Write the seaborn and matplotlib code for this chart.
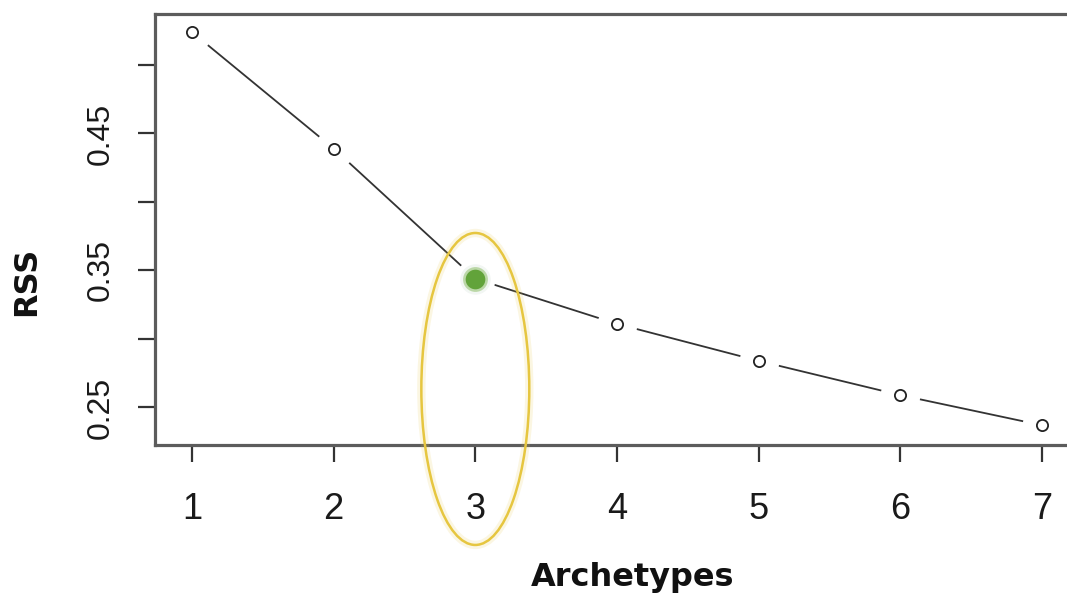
import pandas as pd
import matplotlib
matplotlib.use("Agg")
import matplotlib.pyplot as plt
import seaborn as sns
from matplotlib.patches import Ellipse

# values
archetypes = [1, 2, 3, 4, 5, 6, 7]
rss = [0.524, 0.439, 0.344, 0.311, 0.284, 0.259, 0.237]
highlight = 3
yticks = [0.25, 0.30, 0.35, 0.40, 0.45, 0.50]
ytick_labels = ["0.25", "", "0.35", "", "0.45", ""]

df = pd.DataFrame({"k": archetypes, "rss": rss})
others = df[df["k"] != highlight]
best = df[df["k"] == highlight]

sns.set_theme(style="white")
plt.rcParams["font.family"] = ["Liberation Sans", "DejaVu Sans"]

fig = plt.figure(figsize=(10.67, 6.01), dpi=100)
ax = fig.add_axes([155 / 1067, 1 - 445 / 601, 921 / 1067, 431 / 601])

# R style type="b": line with gaps round the points
sns.lineplot(data=df, x="k", y="rss", color="#333333", lw=1.3, ax=ax, zorder=2)
sns.scatterplot(data=df, x="k", y="rss", s=820, color="white", linewidth=0, ax=ax, zorder=2.1)
sns.scatterplot(data=others, x="k", y="rss", s=65, facecolor="white", edgecolor="#222222",
                linewidth=1.3, ax=ax, zorder=3)

# blurred green marker on the chosen number of archetypes
sns.scatterplot(data=best, x="k", y="rss", s=480, color="#d4e2d8", alpha=0.3, linewidth=0, ax=ax, zorder=3)
sns.scatterplot(data=best, x="k", y="rss", s=320, color="#8fbf6a", alpha=0.55, linewidth=0, ax=ax, zorder=3.1)
sns.scatterplot(data=best, x="k", y="rss", s=200, color="#62a33a", linewidth=0, ax=ax, zorder=3.2)

# yellow ring round k=3
for lw, a in [(6, 0.15), (1.8, 1.0)]:
    ax.add_patch(Ellipse((highlight, 0.2635), 0.762, 0.2277, fill=False, edgecolor="#e6c640",
                         lw=lw, alpha=a, clip_on=False, zorder=4))

ax.set_xlim(0.739, 7.24)
ax.set_ylim(0.2226, 0.5372)
ax.set_xticks(archetypes)
ax.set_xticklabels([str(k) for k in archetypes], fontsize=26)
ax.set_yticks(yticks)
ax.set_yticklabels(ytick_labels, fontsize=23, rotation=90, va="center")

ax.tick_params(axis="both", which="major", direction="out", length=12, width=1.6,
               color="#333333", bottom=True, left=True, labelcolor="#1a1a1a")
ax.tick_params(axis="x", pad=22)
ax.tick_params(axis="y", pad=16)

for side in ["left", "bottom", "top"]:
    ax.spines[side].set_color("#5c5c5c")
    ax.spines[side].set_linewidth(2.3)
ax.spines["right"].set_visible(False)

ax.set_xlabel("Archetypes", fontsize=23, fontweight="bold", family="DejaVu Sans", color="#111111")
ax.xaxis.set_label_coords((633 - 155) / 921, -(562 - 445) / 431)
ax.set_ylabel("RSS", fontsize=23, fontweight="bold", family="DejaVu Sans", color="#111111")
ax.yaxis.set_label_coords(-(155 - 42) / 921, (445 - 281) / 431)

fig.savefig("out.png", dpi=100)
